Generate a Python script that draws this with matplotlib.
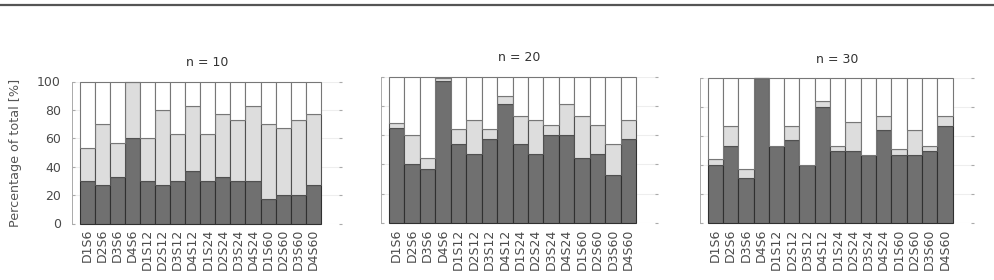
import numpy as np
import matplotlib
matplotlib.use("Agg")
import matplotlib.pyplot as plt

# categories (same for all three panels)
labels = ["D1S6", "D2S6", "D3S6", "D4S6",
          "D1S12", "D2S12", "D3S12", "D4S12",
          "D1S24", "D2S24", "D3S24", "D4S24",
          "D1S60", "D2S60", "D3S60", "D4S60"]

titles = ["n = 10", "n = 20", "n = 30"]

# dark segment (bottom), percent
dark_10 = [30, 27, 33, 60, 30, 27, 30, 37, 30, 33, 30, 30, 17, 20, 20, 27]
dark_20 = [65, 40, 37, 97, 54, 47, 57, 81, 54, 47, 60, 60, 44, 47, 33, 57]
dark_30 = [40, 53, 31, 100, 53, 57, 40, 80, 50, 50, 47, 64, 47, 47, 50, 67]

# light segment (middle), percent
light_10 = [23, 43, 24, 40, 30, 53, 33, 46, 33, 44, 43, 53, 53, 47, 53, 50]
light_20 = [3, 20, 7, 2, 10, 23, 7, 6, 19, 23, 7, 21, 29, 20, 21, 13]
light_30 = [4, 14, 6, 0, 0, 10, 0, 4, 3, 20, 0, 10, 4, 17, 3, 7]

darks = [dark_10, dark_20, dark_30]
lights = [light_10, light_20, light_30]

# axes boxes in pixels: left, right, top, bottom
W, H = 994, 280
boxes = [(72, 342, 81.5, 223.5),
         (381, 658, 76.7, 222.7),
         (700, 974, 78.3, 222.7)]

fig = plt.figure(figsize=(W / 100, H / 100), dpi=100)

# dark rule across the top
fig.add_artist(plt.Line2D([0, 1], [1 - 5 / H, 1 - 5 / H], color="#555555", lw=1.6))

x = np.arange(len(labels))
for i in range(3):
    l, r, t, b = boxes[i]
    ax = fig.add_axes([l / W, 1 - b / H, (r - l) / W, (b - t) / H])
    d = np.array(darks[i], float)
    m = np.array(lights[i], float)
    w = 100 - d - m
    ax.bar(x, d, width=1.0, color="#707070", edgecolor="#303030", lw=0.8, zorder=3, clip_on=False)
    ax.bar(x, m, bottom=d, width=1.0, color="#dddddd", edgecolor="#505050", lw=0.8, zorder=3, clip_on=False)
    ax.bar(x, w, bottom=d + m, width=1.0, color="white", edgecolor="#777777", lw=0.8, zorder=3, clip_on=False)

    ax.set_xlim(-1.0, 16.9)
    ax.set_ylim(0, 100)
    ax.set_yticks([0, 20, 40, 60, 80, 100])
    ax.set_xticks(x)
    ax.set_xticklabels(labels, rotation=90, fontsize=9, color="#4a4a4a")
    ax.tick_params(axis="x", length=0, pad=4)
    ax.tick_params(axis="y", direction="in", length=2, color="#aaaaaa",
                   right=True, labelsize=9, labelcolor="#4a4a4a", pad=8)
    ax.grid(axis="y", color="#eeeeee", lw=0.8, zorder=0)
    for s in ["top", "right", "bottom"]:
        ax.spines[s].set_visible(False)
    ax.spines["left"].set_color("#aaaaaa")
    ax.spines["left"].set_linewidth(0.7)
    ax.set_title(titles[i], fontsize=9, color="#333333", pad=11)
    if i == 0:
        ax.set_ylabel("Percentage of total [%]", fontsize=9.2, color="#555555", labelpad=11)
    else:
        ax.set_yticklabels([])

fig.savefig("out.png", dpi=100)
